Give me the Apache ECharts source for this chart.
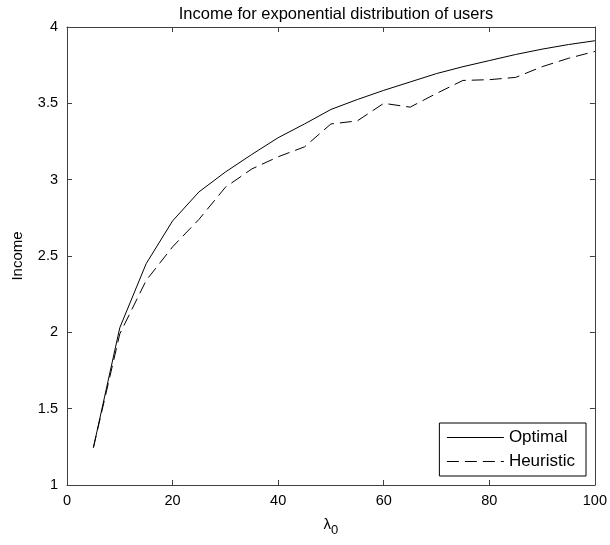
<!DOCTYPE html>
<html><head><meta charset="utf-8">
<script src="https://cdn.jsdelivr.net/npm/echarts@6/dist/echarts.min.js"></script>
<style>html,body{margin:0;padding:0;background:#fff}#c{width:610px;height:545px}</style>
</head><body><div id="c"></div>
<script>
var lambda0 = [5,10,15,20,25,30,35,40,45,50,55,60,65,70,75,80,85,90,95,100];
var optimal = [1.245,2.03,2.45,2.73,2.92,3.05,3.165,3.275,3.365,3.46,3.525,3.585,3.64,3.695,3.74,3.78,3.82,3.855,3.885,3.91];
var heuristic = [1.245,1.99,2.34,2.56,2.74,2.95,3.07,3.15,3.215,3.365,3.385,3.50,3.475,3.565,3.65,3.655,3.67,3.74,3.795,3.84];
var xTicks = [0,20,40,60,80,100];
var yTicks = [1,1.5,2,2.5,3,3.5,4];

var font = 'Liberation Sans, Arial, sans-serif';
var axisCol = '#404040';
function pairs(xs, ys){ return xs.map(function(x,i){return [x, ys[i]];}); }
var chart = echarts.init(document.getElementById('c'), null, {renderer:'canvas'});
var common = {
  axisLine:{show:true, onZero:false, lineStyle:{color:axisCol, width:1}},
  axisTick:{show:true, inside:true, length:5, lineStyle:{color:axisCol}},
  splitLine:{show:false}
};
chart.setOption({
  animation:false,
  title:{text:'Income for exponential distribution of users', left:331, textAlign:'center', top:1,
    textStyle:{fontFamily:font, fontSize:16.5, fontWeight:'normal', color:'#000'}},
  grid:{left:67, right:13, top:27, bottom:60},
  legend:{orient:'vertical', right:24, bottom:69, itemWidth:57, itemHeight:10, itemGap:7,
    padding:[6,11,6,7], borderColor:'#000', borderWidth:1, borderRadius:0, backgroundColor:'#fff',
    itemStyle:{opacity:0}, lineStyle:{width:1},
    textStyle:{fontFamily:font, fontSize:17, color:'#000'},
    data:[{name:'Optimal'},{name:'Heuristic'}]},
  xAxis:[
    Object.assign({type:'value', min:0, max:100, interval:20, position:'bottom',
      name:'{a|λ}{b|0}', nameLocation:'middle', nameGap:28,
      nameTextStyle:{rich:{a:{fontFamily:font, fontSize:15, color:'#000'}, b:{fontFamily:font, fontSize:13, color:'#000', padding:[11,0,0,0]}}},
      axisLabel:{fontFamily:font, fontSize:14.5, color:'#000', margin:8}}, common),
    Object.assign({type:'value', min:0, max:100, interval:20, position:'top', axisLabel:{show:false}}, common)
  ],
  yAxis:[
    Object.assign({type:'value', min:1, max:4, interval:0.5, position:'left',
      name:'Income', nameLocation:'middle', nameGap:42, nameRotate:90,
      nameTextStyle:{fontFamily:font, fontSize:15, color:'#000'},
      axisLabel:{fontFamily:font, fontSize:14.5, color:'#000', margin:9,
        formatter:function(v){return String(v);}}}, common),
    Object.assign({type:'value', min:1, max:4, interval:0.5, position:'right', axisLabel:{show:false}}, common)
  ],
  series:[
    {name:'Optimal', type:'line', data:pairs(lambda0, optimal), symbol:'none', showSymbol:false,
      lineStyle:{color:'#000', width:1, type:'solid'}, itemStyle:{color:'#000'}},
    {name:'Heuristic', type:'line', data:pairs(lambda0, heuristic), symbol:'none', showSymbol:false,
      lineStyle:{color:'#000', width:1, type:[12,6]}, itemStyle:{color:'#000'}}
  ]
});
</script></body></html>
